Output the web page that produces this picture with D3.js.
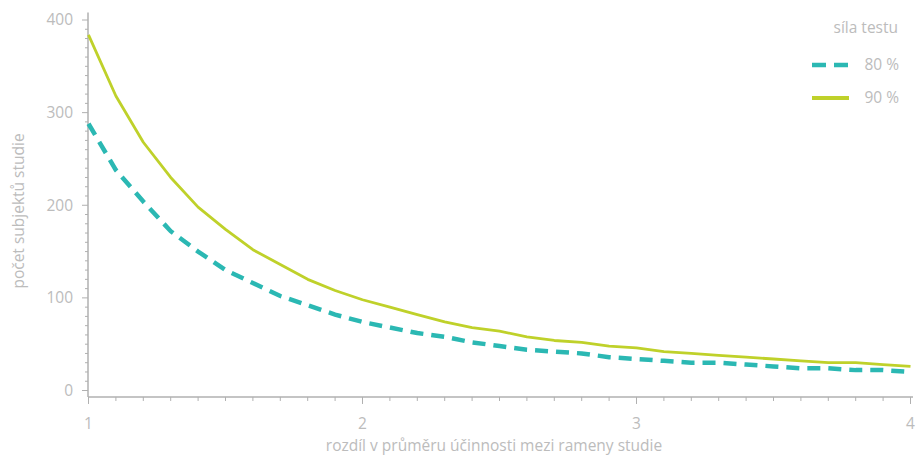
<!DOCTYPE html>
<html><head><meta charset="utf-8">
<script src="https://cdn.jsdelivr.net/npm/d3@7"></script>
<style>
body{margin:0;background:#fff;}
text{font-family:"Open Sans",sans-serif;}
</style></head>
<body><svg id="c" width="916" height="456"></svg>
<script>
const differences = [1.0,1.1,1.2,1.3,1.4,1.5,1.6,1.7,1.8,1.9,2.0,2.1,2.2,2.3,2.4,2.5,2.6,2.7,2.8,2.9,3.0,3.1,3.2,3.3,3.4,3.5,3.6,3.7,3.8,3.9,4.0];
const power80 = [288,238,204,172,150,130,116,102,92,82,74,68,62,58,52,48,44,42,40,36,34,32,30,30,28,26,24,24,22,22,20];
const power90 = [384,318,268,230,198,174,152,136,120,108,98,90,82,74,68,64,58,54,52,48,46,42,40,38,36,34,32,30,30,28,26];
const xTicks = [1,2,3,4];
const yTicks = [0,100,200,300,400];
const seriesNames = ["80 %","90 %"];
const legendTitle = "síla testu";
const xTitle = "rozdíl v průměru účinnosti mezi rameny studie";
const yTitle = "počet subjektů studie";

const svg = d3.select("#c");
const x = d3.scaleLinear().domain([1,4]).range([88.5,910.5]);
const y = d3.scaleLinear().domain([0,400]).range([390.5,20]);
const axisCol = "#b0b0b0", textCol = "#bcbcbc";
const teal = "#2bb8b3", lime = "#bfd12a";
const fs = 15.5;

// axis lines
svg.append("line").attr("x1",88).attr("x2",88).attr("y1",y(408)).attr("y2",y(-7)).attr("stroke",axisCol).attr("stroke-width",1.5);
svg.append("line").attr("x1",88).attr("x2",913).attr("y1",y(-7)).attr("y2",y(-7)).attr("stroke",axisCol).attr("stroke-width",1.5);

// y ticks
const yMinor = d3.range(0,401,10);
svg.selectAll(".ym").data(yMinor).join("line")
  .attr("x1",d=> d%100===0?82:85).attr("x2",88)
  .attr("y1",d=>y(d)).attr("y2",d=>y(d)).attr("stroke",axisCol).attr("stroke-width",1);
svg.selectAll(".yl").data(yTicks).join("text")
  .attr("x",73).attr("y",d=>y(d)).attr("dy","0.35em").attr("text-anchor","end")
  .attr("fill",textCol).attr("font-size",fs).text(d=>d);

// x ticks
const xMinor = d3.range(10,41,1).map(d=>d/10);
const yBase = y(-7);
svg.selectAll(".xm").data(xMinor).join("line")
  .attr("x1",d=>x(d)).attr("x2",d=>x(d))
  .attr("y1",yBase).attr("y2",d=> Math.abs(d-Math.round(d))<1e-6? yBase+7 : yBase+4)
  .attr("stroke",axisCol).attr("stroke-width",1);
svg.selectAll(".xl").data(xTicks).join("text")
  .attr("x",d=>x(d)).attr("y",428.5).attr("text-anchor","middle")
  .attr("fill",textCol).attr("font-size",fs).text(d=>d);

// titles
svg.append("text").attr("x",494).attr("y",451).attr("text-anchor","middle")
  .attr("fill",textCol).attr("font-size",fs).text(xTitle);
svg.append("text").attr("transform","translate(24,211) rotate(-90)").attr("text-anchor","middle")
  .attr("fill",textCol).attr("font-size",fs).text(yTitle);

// lines
const line = d3.line().x((d,i)=>x(differences[i])).y(d=>y(d));
svg.append("path").datum(power90).attr("d",line).attr("fill","none")
  .attr("stroke",lime).attr("stroke-width",2.8).attr("stroke-linejoin","round");
svg.append("path").datum(power80).attr("d",line).attr("fill","none")
  .attr("stroke",teal).attr("stroke-width",4.5).attr("stroke-dasharray","13,8");

// legend
svg.append("text").attr("x",898).attr("y",28).attr("dy","0.35em").attr("text-anchor","end")
  .attr("fill",textCol).attr("font-size",fs).text(legendTitle);
const leg = [{name:seriesNames[0],col:teal,dash:"14,8",w:4.5,yy:65},{name:seriesNames[1],col:lime,dash:null,w:4,yy:98}];
leg.forEach(l=>{
  svg.append("line").attr("x1",812).attr("x2",849).attr("y1",l.yy).attr("y2",l.yy)
    .attr("stroke",l.col).attr("stroke-width",l.w).attr("stroke-dasharray",l.dash);
  svg.append("text").attr("x",899).attr("y",l.yy).attr("dy","0.35em").attr("text-anchor","end")
    .attr("fill",textCol).attr("font-size",fs).text(l.name);
});
</script></body></html>
